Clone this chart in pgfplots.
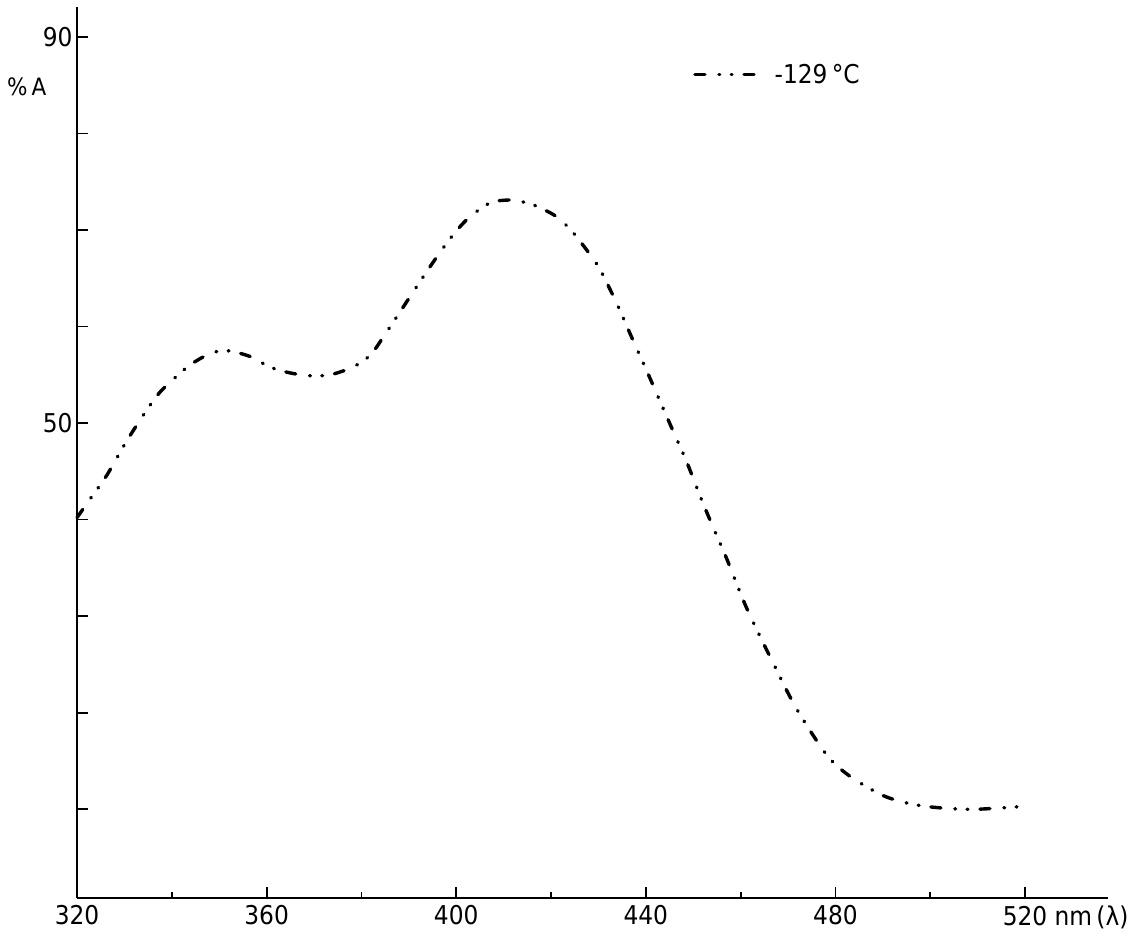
\documentclass[border=0pt]{standalone}
\usepackage{fontspec}
\setmainfont{DejaVu Sans Condensed}
\usepackage{pgfplots}
\pgfplotsset{compat=1.18}
\pgfplotstableread{
x y
320 40.2
323 42.3
326.3 44.6
330.8 48.4
336.5 52.6
339.8 54.3
343.8 56.0
348.1 57.2
351.6 57.5
356.5 56.9
360.7 55.8
364.9 55.2
369.2 54.9
373.4 55.0
378.2 55.8
381.8 57.0
384.6 58.9
389.6 62.6
394.2 66.0
398.7 69.1
402.5 71.2
407.1 72.8
410.8 73.1
413.1 73.0
416.3 72.6
420.8 71.5
424.0 70.1
426.8 68.4
430.0 66.2
432.4 63.9
434.6 61.6
437.0 58.9
440.2 55.4
442.6 52.7
445.1 49.9
448.6 46.0
451.4 42.5
453.5 40.0
457.1 35.9
461.3 30.8
466.9 25.1
471.8 20.4
478.2 15.6
483.1 13.4
490.1 11.4
496.4 10.5
503.0 10.1
510.0 10.0
520.0 10.3
}\spectrum
\begin{document}
\begin{tikzpicture}
\useasboundingbox (-77bp,-40bp) rectangle (1068bp,898bp);
\begin{axis}[
  at={(0,0)}, anchor=south west,
  scale only axis, width=1031bp, height=891bp,
  xmin=320, xmax=537.5, ymin=0.8, ymax=93.1,
  axis x line*=bottom, axis y line*=left,
  axis line style={line width=2.4bp, black},
  xtick={320,360,...,520}, minor xtick={340,380,...,500},
  xticklabels={320,360,400,440,480,{520\rlap{ nm\,(λ)}}},
  ytick={10,20,...,90}, yticklabels={,,,,50,,,,90},
  tick align=inside, major tick length=11bp, minor tick length=6bp,
  tick style={line width=1.8bp, black},
  ticklabel style={font=\fontsize{26}{26}\selectfont},
  xticklabel style={yshift=-4bp},
  yticklabel style={xshift=-1bp},
  /pgf/number format/assume math mode=true,
  clip=false,
  legend style={draw=none, fill=none, at={(rel axis cs:0.5975,0.924)}, anchor=west,
    inner sep=0pt, font=\fontsize{26}{26}\selectfont},
  legend cell align=left,
  legend image code/.code={\draw[#1] (0bp,0bp) -- (64bp,0bp);},
]
\addplot[black, line width=3.4bp, line cap=round, smooth,
  dash pattern=on 10bp off 14bp on 0.8bp off 11.5bp on 0.8bp off 12bp]
  table[x=x,y=y] {\spectrum};
\addlegendentry{\hspace{12bp}-129\,°C}
\node[anchor=west, inner sep=0pt, font=\fontsize{24}{24}\selectfont]
  at (rel axis cs:-0.0679,0.9102) {\%\,A};
\end{axis}
\end{tikzpicture}
\end{document}
